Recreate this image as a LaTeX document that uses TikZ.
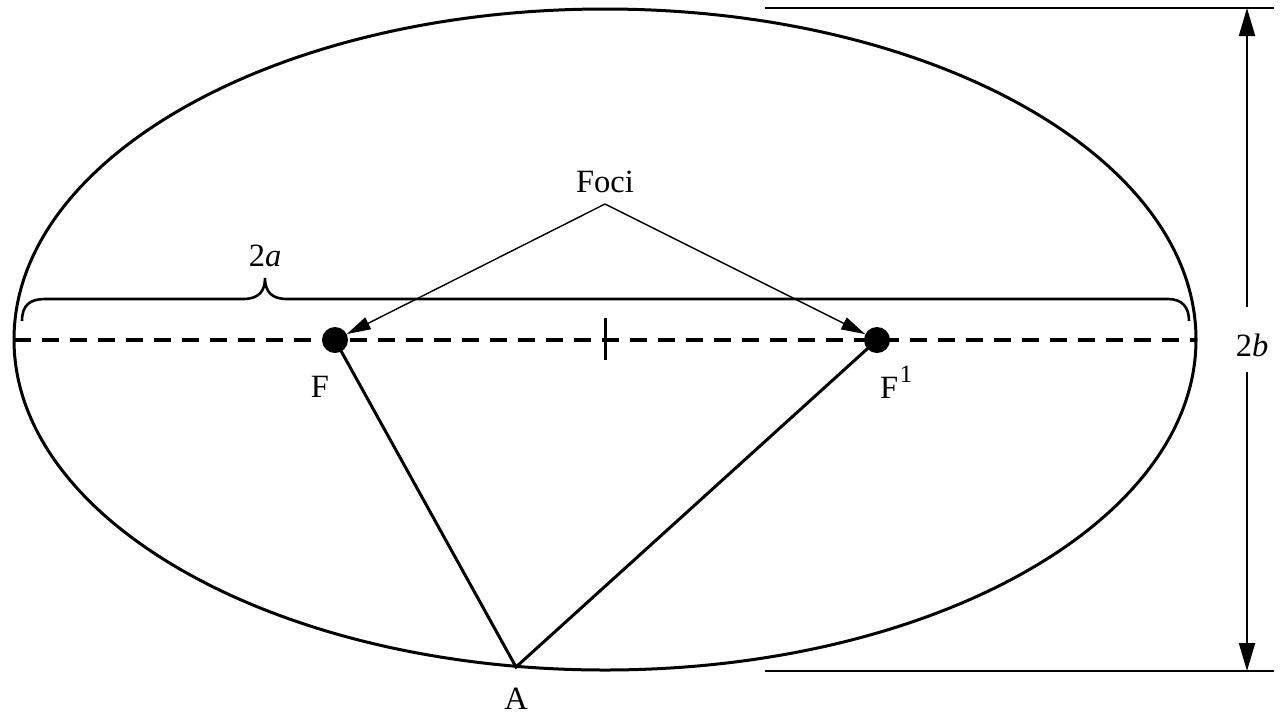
\documentclass[tikz,border=0pt]{standalone}
\usepackage{fontspec}
\setmainfont{Liberation Serif}
\usetikzlibrary{arrows.meta}
\begin{document}
\begin{tikzpicture}[x=1pt,y=-1pt,
  lab/.style={font=\fontsize{32.5}{36}\selectfont, inner sep=0pt},
  thick3/.style={line width=3pt},
  focdot/.style={circle, fill=black, inner sep=0pt, minimum size=26pt},
  thinarrow/.style={line width=1.4pt, -{Triangle[length=24pt,width=13pt]}},
  dimarrow/.style={line width=2pt, -{Triangle[length=28pt,width=16pt]}},
  axis/.style={line width=3.2pt, dash pattern=on 17pt off 11pt},
  bracestyle/.style={line width=2.6pt}]
\useasboundingbox (0,0) rectangle (1287,716);
% ellipse
\draw[thick3] (605,339.5) ellipse [x radius=591, y radius=330.5];
% major axis
\coordinate (axL) at (14,340);
\coordinate (axR) at (1196,340);
\draw[axis] (axL) -- (axR);
% centre tick
\coordinate (tkT) at (605,318);
\coordinate (tkB) at (605,360);
\draw[line width=3pt] (tkT) -- (tkB);
% brace
\draw[bracestyle] (22,321) .. controls (22,305) and (30,299) .. (45,299)
  -- (243,299) .. controls (258,299) and (265,292) .. (265,278)
  .. controls (265,292) and (272,299) .. (287,299)
  -- (1168,299) .. controls (1182,299) and (1189,307) .. (1189,321);
\node[lab] (twoa) at (265,256) {2\textit{a}};
% foci
\node[focdot] (F) at (335,340) {};
\node[focdot] (F1) at (877,340) {};
\node[lab] (Flab) at (320,387) {F};
\node[lab, anchor=base west] (F1lab) at (880,398) {F\hspace{1.5pt}\raisebox{16pt}{\fontsize{25}{25}\selectfont 1}};
% A
\coordinate (A) at (516,667);
\node[lab] (Alab) at (516,699) {A};
\draw[thick3] (F.center) -- (A) -- (F1.center);
% Foci label and arrows
\node[lab] (foci) at (605,182) {Foci};
\coordinate (apex) at (605,204);
\draw[thinarrow] (apex) -- (F);
\draw[thinarrow] (apex) -- (F1);
% dimension 2b
\coordinate (tL) at (765,8);
\coordinate (tR) at (1274,8);
\coordinate (bL) at (765,671);
\coordinate (bR) at (1274,671);
\draw[line width=1.5pt] (tL) -- (tR);
\draw[line width=2pt] (bL) -- (bR);
\node[lab] (twob) at (1252,345) {2\textit{b}};
\coordinate (vT) at (1247,8);
\coordinate (vB) at (1247,671);
\draw[dimarrow] (1247,307) -- (vT);
\draw[dimarrow] (1247,372) -- (vB);
\end{tikzpicture}
\end{document}
